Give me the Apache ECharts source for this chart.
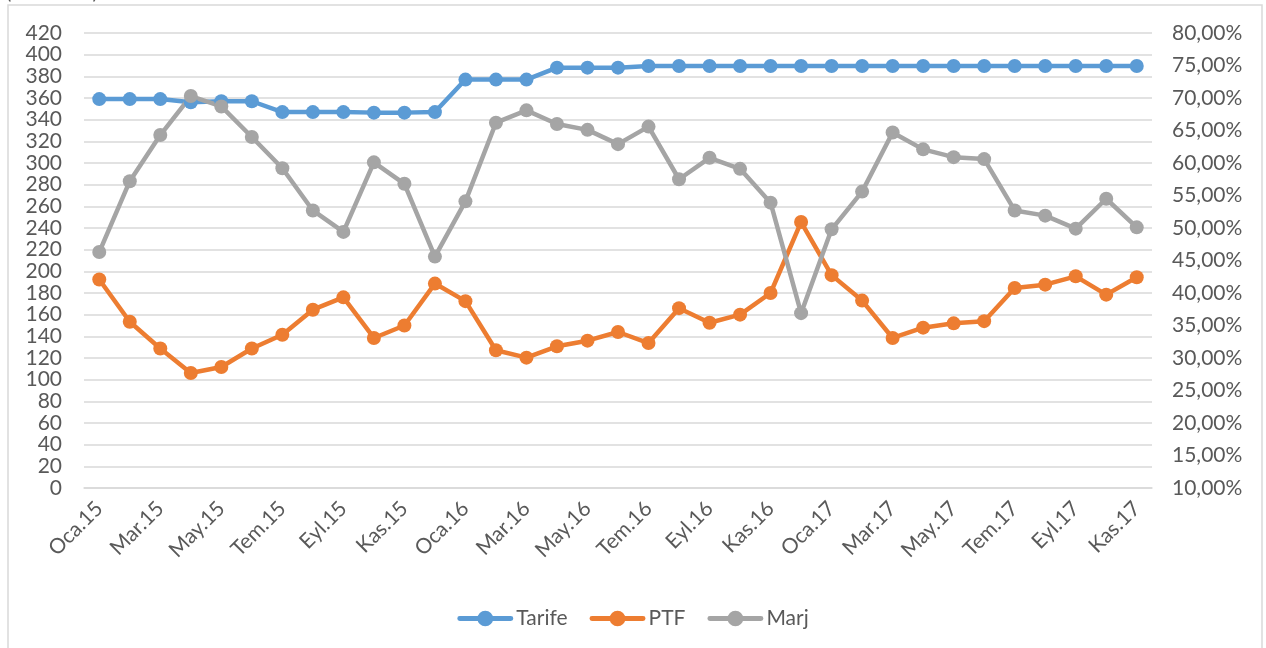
<!DOCTYPE html>
<html>
<head>
<meta charset="utf-8">
<script src="https://cdn.jsdelivr.net/npm/echarts@6/dist/echarts.min.js"></script>
<style>
html, body { margin: 0; padding: 0; background: #fff; }
#chart { width: 1266px; height: 648px; }
</style>
</head>
<body>
<div id="chart"></div>
<script>
// Aylar (Oca.15 - Kas.17)
const months = ['Oca', 'Şub', 'Mar', 'Nis', 'May', 'Haz', 'Tem', 'Ağu', 'Eyl', 'Eki', 'Kas', 'Ara']
const categories = []
for (const y of ['15', '16', '17']) {
    for (const m of months) categories.push(m + '.' + y)
}
categories.length = 35

// Tarife (TL/MWh)
const tarife = [359, 359, 359, 356, 357, 357, 347, 347, 347, 346.5, 346.5, 347,
    377, 377, 377, 388, 388, 388, 389.5, 389.5, 389.5, 389.5, 389.5, 389.5,
    389.5, 389.5, 389.5, 389.5, 389.5, 389.5, 389.5, 389.5, 389.5, 389.5, 389.5]

// PTF (TL/MWh)
const ptf = [192.5, 153.5, 128.8, 106.2, 111.7, 128.8, 141.5, 164.6, 176, 138.5, 150, 188.7,
    172.5, 127.1, 120.3, 130.8, 136, 144, 133.8, 166, 152.5, 160, 180, 245.5,
    196.5, 173, 138.5, 148, 152, 154, 184.6, 187.7, 195.4, 178.5, 194.5]

// Marj (%)
const marj = [46.3, 57.2, 64.3, 70.3, 68.7, 64.0, 59.2, 52.7, 49.4, 60.1, 56.8, 45.6,
    54.1, 66.2, 68.1, 66.0, 65.1, 62.9, 65.6, 57.5, 60.8, 59.1, 53.9, 36.9,
    49.8, 55.6, 64.7, 62.1, 60.9, 60.6, 52.7, 51.9, 49.9, 54.5, 50.1]

const textColor = '#595959'
const gridColor = '#d9d9d9'
const font = 'Lato, "Open Sans", sans-serif'

// ikon: kalın çizgi + daire (hepsi saat yönünde, boşluk kalmasın)
const legendIcon = 'path://M2,5.5 L54,5.5 A2.5,2.5 0 0 1 54,10.5 L2,10.5 A2.5,2.5 0 0 1 2,5.5 Z M20,8 A8,8 0 1 1 36,8 A8,8 0 1 1 20,8 Z'

const chart = echarts.init(document.getElementById('chart'))

const lineSeries = (name, data, color, axis) => ({
    name: name,
    type: 'line',
    data: data,
    yAxisIndex: axis,
    symbol: 'circle',
    symbolSize: 14,
    lineStyle: { color: color, width: 4.5 },
    itemStyle: { color: color },
    animation: false
})

chart.setOption({
    backgroundColor: '#fff',
    textStyle: { fontFamily: font },
    graphic: [
        {
            type: 'rect',
            shape: { x: 8, y: 5, width: 1254, height: 660 },
            style: { fill: 'none', stroke: '#d9d9d9', lineWidth: 1.5 },
            silent: true
        },
        {
            type: 'text',
            left: 6,
            top: -17,
            style: { text: '(TL/MWh)', fill: textColor, font: '20px ' + font }
        }
    ],
    grid: { left: 84, right: 114, top: 33, bottom: 160 },
    legend: {
        top: 603,
        left: 'center',
        icon: legendIcon,
        itemWidth: 56,
        itemHeight: 16,
        itemGap: 22,
        textStyle: { color: textColor, fontSize: 21, fontFamily: font, padding: [0, 0, 0, -2] },
        data: ['Tarife', 'PTF', 'Marj']
    },
    xAxis: {
        type: 'category',
        data: categories,
        boundaryGap: true,
        axisLine: { lineStyle: { color: gridColor, width: 1.5 } },
        axisTick: { interval: 1, length: 7, lineStyle: { color: gridColor, width: 1.5 } },
        axisLabel: { interval: 1, rotate: 45, color: textColor, fontSize: 21, margin: 17, fontFamily: font }
    },
    yAxis: [
        {
            type: 'value',
            min: 0,
            max: 420,
            interval: 20,
            axisLine: { show: false },
            axisTick: { show: false },
            splitLine: { lineStyle: { color: gridColor, width: 1.5 } },
            axisLabel: { color: textColor, fontSize: 21, margin: 22, fontFamily: font }
        },
        {
            type: 'value',
            min: 10,
            max: 80,
            interval: 5,
            position: 'right',
            axisLine: { show: false },
            axisTick: { show: false },
            splitLine: { show: false },
            axisLabel: {
                color: textColor,
                fontSize: 21,
                margin: 20,
                fontFamily: font,
                formatter: v => v.toFixed(2).replace('.', ',') + '%'
            }
        }
    ],
    series: [
        lineSeries('Tarife', tarife, '#5b9bd5', 0),
        lineSeries('PTF', ptf, '#ed7d31', 0),
        lineSeries('Marj', marj, '#a5a5a5', 1)
    ]
})
</script>
</body>
</html>
